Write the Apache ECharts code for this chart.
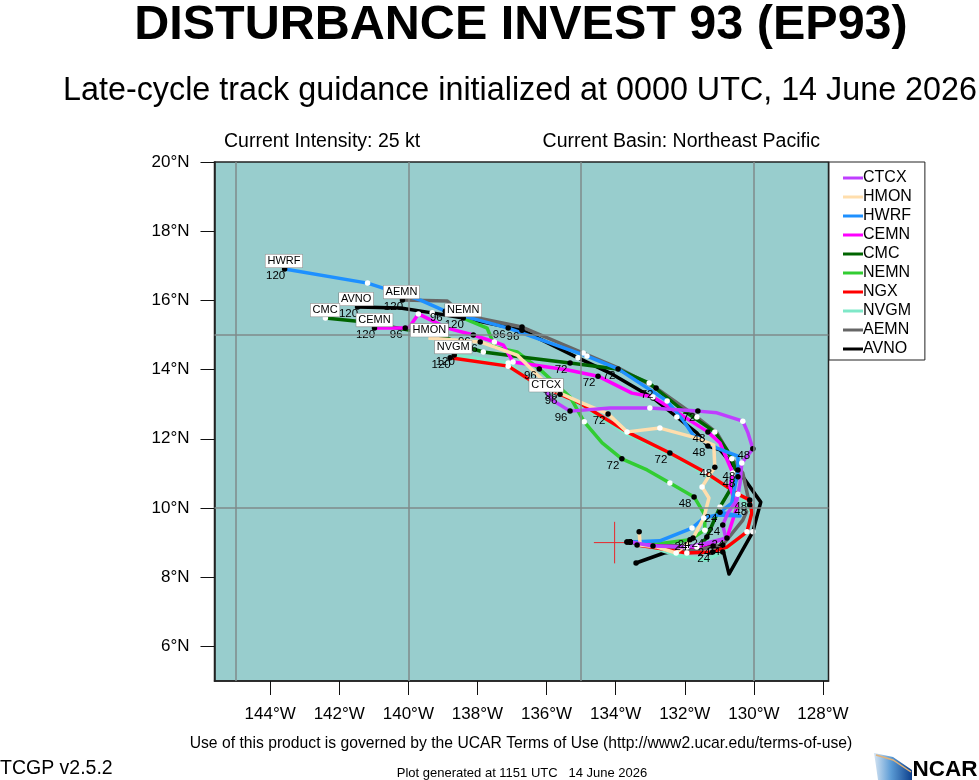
<!DOCTYPE html>
<html>
<head>
<meta charset="utf-8">
<style>html,body{margin:0;padding:0;background:#fff}#c{width:979px;height:780px}</style>
<script src="https://cdn.jsdelivr.net/npm/echarts@6/dist/echarts.min.js"></script>
</head>
<body>
<div id="c"></div>
<script>
// Each point: [lon, lat, marker ('b' black / 'w' white / '' none), forecast hour label]
const CTCX = [[-133.58,9.02,'b'],[-132.92,8.90,'b'],[-131.94,8.87,'w'],[-131.36,8.99,''],[-130.81,9.13,''],[-130.90,9.51,'b',24],[-130.75,9.86,''],[-130.49,10.23,''],[-130.40,10.72,''],[-130.35,11.30,'w'],[-130.03,11.71,'b',48],[-130.17,12.17,''],[-130.32,12.51,'w'],[-131.07,12.75,''],[-131.62,12.80,'b',72],[-133.01,12.89,'w'],[-134.16,12.89,''],[-135.32,12.80,'b',96],[-135.84,13.12,''],[-136.04,13.41,'b']];
const HMON = [[-133.32,9.31,'b'],[-133.29,8.93,''],[-132.80,8.87,''],[-132.25,8.70,'w'],[-131.76,9.13,'b',24],[-131.45,9.71,'w'],[-131.30,10.29,''],[-131.50,10.61,'w'],[-131.13,11.18,'b',48],[-131.16,11.82,''],[-131.65,12.02,''],[-132.72,12.31,'w'],[-133.67,12.20,''],[-134.22,12.72,'b',72],[-135.03,13.06,''],[-135.81,13.41,'w'],[-136.27,13.85,''],[-136.85,14.42,''],[-137.92,14.80,'b',96],[-139.42,14.91,'']];
const HWRF = [[-133.58,9.02,'b'],[-132.72,9.05,''],[-131.79,9.42,'w'],[-131.45,9.71,''],[-131.07,9.80,''],[-130.40,9.77,''],[-130.98,9.88,'b',24],[-130.64,10.14,''],[-130.46,11.10,'b',48],[-130.46,11.50,''],[-131.07,11.73,''],[-131.76,12.11,''],[-132.05,12.54,''],[-132.51,13.09,'w'],[-133.93,14.02,'b',72],[-134.83,14.39,'w'],[-137.11,15.20,'b',96],[-138.93,15.69,'b',96],[-139.65,16.01,''],[-141.18,16.50,'w'],[-143.58,16.91,'b',120]];
const CEMN = [[-133.58,9.02,'b'],[-132.80,8.90,''],[-131.65,8.87,'w'],[-130.78,9.13,'b',24],[-130.49,10.03,''],[-130.69,10.61,''],[-130.61,11.01,'w'],[-130.98,11.88,''],[-131.33,12.20,'b',48],[-132.92,13.21,'w'],[-133.53,13.32,''],[-134.51,13.81,'b',72],[-135.38,13.99,''],[-136.97,14.22,'w'],[-137.25,14.71,''],[-137.51,14.80,'w'],[-138.12,15.00,'b',96],[-138.87,15.20,''],[-139.71,15.61,'w'],[-139.97,15.23,''],[-140.09,15.20,'b',96],[-140.98,15.20,'b',120]];
const CMC = [[-133.67,9.02,'b'],[-132.92,8.90,''],[-131.56,8.90,''],[-131.36,9.16,'b',24],[-130.98,10.03,'w'],[-130.69,10.52,''],[-130.46,10.90,'b',48],[-130.64,11.42,'w'],[-130.78,11.68,''],[-131.13,12.20,'w'],[-132.14,12.89,''],[-133.03,13.61,'w'],[-133.96,14.02,''],[-135.32,14.19,'b',72],[-136.56,14.34,''],[-137.83,14.51,'w'],[-138.21,14.62,'b'],[-138.87,14.91,''],[-139.94,15.14,''],[-141.47,15.40,''],[-142.40,15.49,'w']];
const NEMN = [[-133.67,9.02,'b'],[-132.80,8.96,''],[-131.85,9.08,'b',24],[-131.42,9.36,'w'],[-131.42,9.80,''],[-131.73,10.32,'b',48],[-132.43,10.72,'w'],[-133.09,11.10,''],[-133.82,11.42,'b',72],[-134.39,11.88,''],[-134.91,12.49,'w'],[-135.32,13.21,''],[-136.21,14.02,'b',96],[-136.85,14.51,''],[-137.49,14.65,''],[-137.72,15.20,''],[-138.41,15.49,'b',120]];
const NGX = [[-133.38,8.93,'b'],[-132.80,8.84,''],[-131.94,8.70,'w'],[-131.19,8.73,'b',24],[-130.78,8.87,''],[-130.20,9.31,'w'],[-130.06,9.86,''],[-130.12,10.23,'b',48],[-130.46,10.40,'w'],[-131.42,11.04,'w'],[-132.43,11.59,'b',72],[-133.67,12.20,'w'],[-135.03,13.03,''],[-135.61,13.29,'b',96],[-136.39,13.64,''],[-137.11,14.10,'w'],[-138.79,14.34,'b',120]];
const NVGM = [[-133.58,9.02,'b'],[-132.80,8.81,''],[-132.14,8.61,''],[-131.36,8.50,''],[-130.90,8.73,'b'],[-130.20,9.28,''],[-130.06,9.86,''],[-130.46,10.40,''],[-131.42,10.98,''],[-132.37,11.53,''],[-133.67,12.14,''],[-135.03,12.98,''],[-135.61,13.43,'b',96],[-136.33,13.55,''],[-137.11,14.19,'w'],[-138.67,14.42,'b',120]];
const AEMN = [[-133.58,9.02,'b'],[-132.92,8.90,''],[-131.85,8.76,''],[-130.90,8.93,'b',24],[-130.32,9.65,''],[-130.12,10.09,'b',48],[-130.32,11.01,''],[-130.61,11.39,''],[-131.07,12.17,''],[-131.65,12.63,'w'],[-132.83,13.47,'b',72],[-133.93,14.05,''],[-134.94,14.48,'w'],[-136.71,15.23,'b'],[-138.41,15.58,''],[-138.87,15.98,''],[-140.17,16.01,'b',120]];
const AVNO = [[-133.41,8.41,'b'],[-132.60,8.70,''],[-131.18,8.90,'b',24],[-130.90,8.82,''],[-130.72,8.09,''],[-130.03,9.31,'w'],[-129.80,10.17,''],[-130.32,10.90,''],[-130.98,11.68,''],[-131.33,11.79,'b',48],[-131.65,12.17,''],[-132.23,12.63,'w'],[-132.92,13.18,'b'],[-134.16,13.90,''],[-135.09,14.34,'w'],[-136.71,15.14,'b',96],[-138.41,15.49,''],[-139.31,15.64,'w'],[-140.23,15.78,''],[-141.47,15.81,'b',120]];

const legendOrder = ['CTCX','HMON','HWRF','CEMN','CMC','NEMN','NGX','NVGM','AEMN','AVNO'];
const trackData = {CTCX,HMON,HWRF,CEMN,CMC,NEMN,NGX,NVGM,AEMN,AVNO};
const trackColors = {CTCX:'#bf3eff',HMON:'#ffdead',HWRF:'#1e90ff',CEMN:'#ff00ff',CMC:'#006400',NEMN:'#32cd32',NGX:'#ff0000',NVGM:'#7fe8c8',AEMN:'#666666',AVNO:'#000000'};

const tagNames = ['HWRF','AEMN','AVNO','NEMN','CMC','CEMN','HMON','NVGM','CTCX'];
const tagLon = [-143.60,-140.20,-141.51,-138.41,-142.41,-140.98,-139.39,-138.70,-136.01];
const tagLat = [17.14,16.24,16.04,15.72,15.72,15.43,15.14,14.65,13.55];

const lonTicks = [-144,-142,-140,-138,-136,-134,-132,-130,-128];
const latTicks = [6,8,10,12,14,16,18,20];
const gridLons = [-145,-140,-135,-130];
const gridLats = [15,10];
const stormCenter = [-134.03,9.0];
const crossArm = 0.6;

const FONT = '"Liberation Sans", Arial, Helvetica, sans-serif';

function trackSeries(name){
  return {
    name, type:'line', z:3, animation:false,
    showSymbol:true, showAllSymbol:true,
    lineStyle:{color:trackColors[name],width:3.5,join:'round'},
    itemStyle:{color:trackColors[name]},
    emphasis:{disabled:true},
    data: trackData[name].map(p=>({
      value:[p[0],p[1]],
      symbol: p[2] ? 'circle' : 'none',
      symbolSize: 5.5,
      itemStyle:{color: p[2]==='w' ? '#ffffff' : '#000000'},
      label: p[3] ? {show:true,position:'inside',offset:[-9,7],formatter:String(p[3]),color:'#000',fontSize:11.5,fontFamily:FONT} : {show:false}
    }))
  };
}

const series = [];
series.push({
  name:'grid', type:'line', data:[], z:2, silent:true, animation:false,
  markLine:{silent:true,symbol:'none',animation:false,label:{show:false},
    lineStyle:{color:'#7f8a8a',width:1.5,type:'solid'},
    data:gridLons.map(v=>({xAxis:v})).concat(gridLats.map(v=>({yAxis:v})))}
});
series.push({
  name:'center', type:'line', z:2, silent:true, animation:false, showSymbol:false,
  lineStyle:{color:'#e8262a',width:1},
  data:[[stormCenter[0]-crossArm,stormCenter[1]],[stormCenter[0]+crossArm,stormCenter[1]],null,[stormCenter[0],stormCenter[1]-crossArm],[stormCenter[0],stormCenter[1]+crossArm]],
  connectNulls:false
});
legendOrder.slice().reverse().forEach(n=>series.push(trackSeries(n)));
series.push({
  name:'tags', type:'scatter', z:6, silent:true, animation:false, symbolSize:1,
  itemStyle:{color:'rgba(0,0,0,0)',opacity:1},
  data:tagNames.map((n,i)=>({value:[tagLon[i],tagLat[i]],name:n})),
  label:{show:true,position:'inside',formatter:'{b}',color:'#000',fontSize:11,fontFamily:FONT,opacity:1,
    backgroundColor:'#fff',borderColor:'#777',borderWidth:0.5,padding:[1,2,1,2]}
});

function txt(text,x,y,size,opts){
  return {type:'text',silent:true,z:10,style:{text,x,y,fill:'#000',font:(opts&&opts.bold?'bold ':'')+size+'px '+FONT,textAlign:(opts&&opts.align)||'center',textVerticalAlign:'middle'}};
}

const chart = echarts.init(document.getElementById('c'),null,{renderer:'canvas'});
chart.setOption({
  animation:false,
  backgroundColor:'#ffffff',
  grid:{left:214.5,top:162,width:614,height:519,show:true,backgroundColor:'#98cdcd',borderColor:'#222',borderWidth:1.5,containLabel:false},
  xAxis:{type:'value',min:-145.61,max:-127.84,
    axisLine:{show:true,onZero:false,lineStyle:{color:'#222',width:1.5}},
    axisTick:{show:true,length:14,customValues:lonTicks,lineStyle:{color:'#111',width:1}},
    axisLabel:{show:true,customValues:lonTicks,margin:25,fontSize:17,color:'#000',fontFamily:FONT,formatter:v=>Math.abs(v)+'°W'},
    splitLine:{show:false}},
  yAxis:{type:'value',min:5,max:20,
    axisLine:{show:true,onZero:false,lineStyle:{color:'#222',width:1.5}},
    axisTick:{show:true,length:14,customValues:latTicks,lineStyle:{color:'#111',width:1}},
    axisLabel:{show:true,customValues:latTicks,margin:25,fontSize:17,color:'#000',fontFamily:FONT,formatter:v=>v+'°N'},
    splitLine:{show:false}},
  legend:{
    show:true,data:legendOrder,orient:'vertical',left:829,top:162,
    backgroundColor:'#fff',borderColor:'#222',borderWidth:1,
    padding:[8,13,3,14],itemWidth:20,itemHeight:3,itemGap:3,icon:'rect',selectedMode:false,
    textStyle:{fontSize:16,color:'#000',fontFamily:FONT,padding:[0,0,0,-5]}
  },
  series,
  graphic:[
    txt('DISTURBANCE INVEST 93 (EP93)',521,25.5,48.5,{bold:true}),
    txt('Late-cycle track guidance initialized at 0000 UTC, 14 June 2026',520,91.5,32.3),
    txt('Current Intensity: 25 kt',224,142,19.5,{align:'left'}),
    txt('Current Basin: Northeast Pacific',820,142,19.5,{align:'right'}),
    txt('Use of this product is governed by the UCAR Terms of Use (http://www2.ucar.edu/terms-of-use)',521,744,15.7),
    txt('TCGP v2.5.2',0,769,19.5,{align:'left'}),
    txt('Plot generated at 1151 UTC   14 June 2026',522,773,13),
    {type:'polygon',silent:true,z:10,shape:{points:[[874,753],[893,757],[912,770],[912,780],[878,780],[876,766]]},
      style:{fill:new echarts.graphic.LinearGradient(0,0,1,0,[{offset:0,color:'#d5e4f2'},{offset:0.45,color:'#5b9bd5'},{offset:1,color:'#0c3f8c'}])}},
    {type:'polyline',silent:true,z:11,shape:{points:[[876,755],[893,760],[911,772]]},style:{stroke:'#e0b27a',lineWidth:1.5,fill:null}},
    txt('NCAR',945,769.5,22.5,{bold:true})
  ]
});
</script>
</body>
</html>
